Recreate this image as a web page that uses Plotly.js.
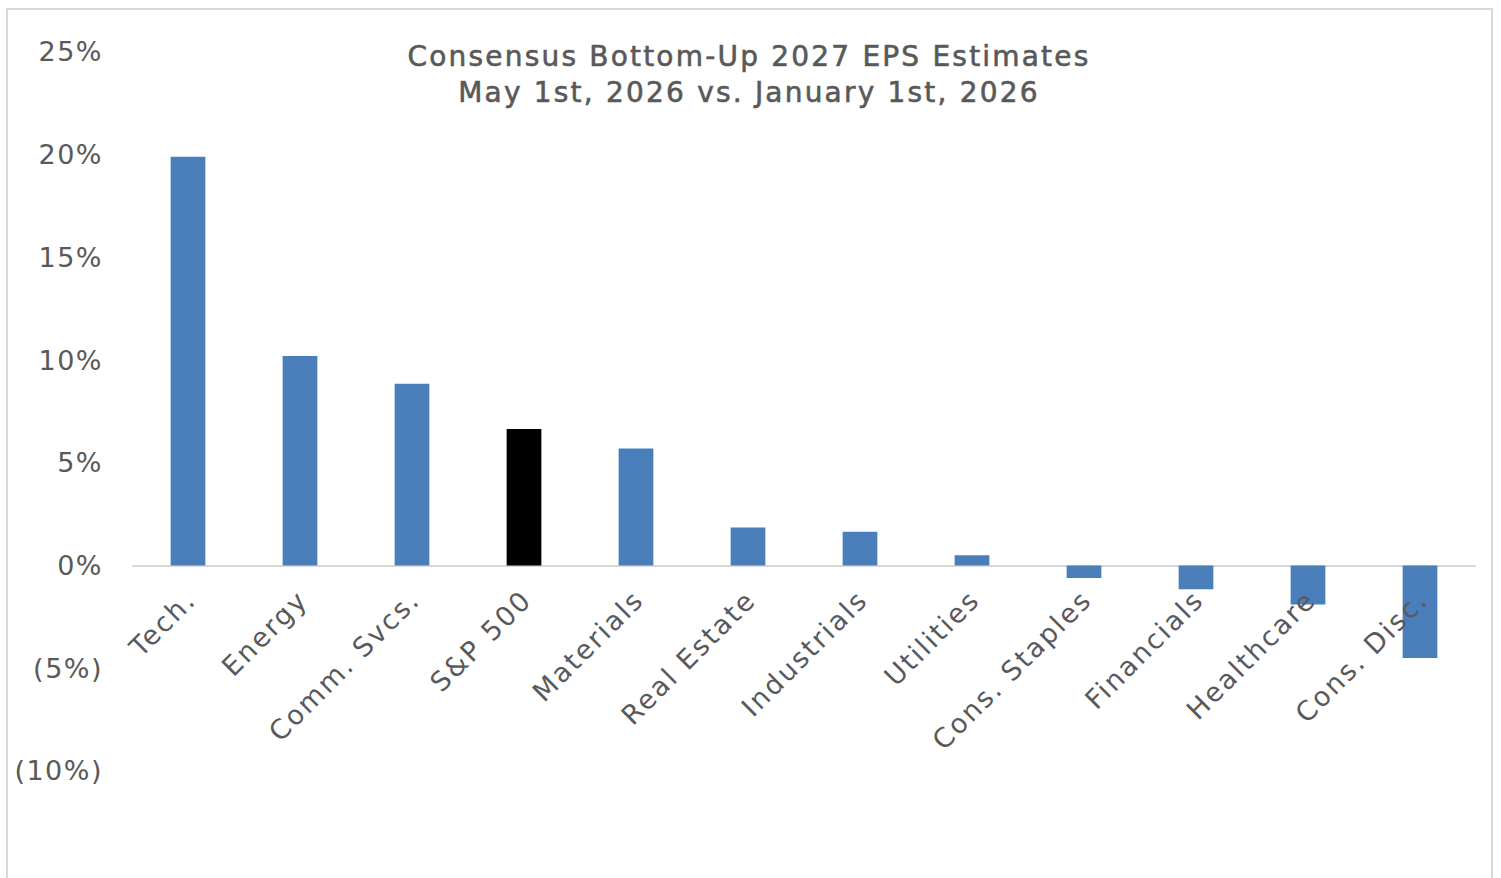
<!DOCTYPE html>
<html>
<head>
<meta charset="utf-8">
<script src="https://cdn.plot.ly/plotly-3.0.1.min.js"></script>
<style>
  html, body { margin: 0; padding: 0; background: #ffffff; }
  #frame { position: absolute; left: 6px; top: 8px; width: 1487px; height: 900px; border: 2px solid #d9d9d9; box-sizing: border-box; }
  #chart { position: absolute; left: 0; top: 0; width: 1501px; height: 878px; }
  .gtitle { stroke: #595959; stroke-width: 0.6px; letter-spacing: 2.2px; }
  .xtick text { letter-spacing: 2.2px; }
  .ytick text { letter-spacing: 1.5px; }
</style>
</head>
<body>
<div id="frame"></div>
<div id="chart"></div>
<script>
const categories = ["Tech.", "Energy", "Comm. Svcs.", "S&P 500", "Materials", "Real Estate", "Industrials", "Utilities", "Cons. Staples", "Financials", "Healthcare", "Cons. Disc."];
const values = [19.9, 10.2, 8.85, 6.65, 5.7, 1.85, 1.65, 0.5, -0.6, -1.15, -1.9, -4.5];
const barColors = ["#4a7ebb", "#4a7ebb", "#4a7ebb", "#000000", "#4a7ebb", "#4a7ebb", "#4a7ebb", "#4a7ebb", "#4a7ebb", "#4a7ebb", "#4a7ebb", "#4a7ebb"];
const yTickVals = [-10, -5, 0, 5, 10, 15, 20, 25];
const yTickText = ["(10%)", "(5%)", "0%", "5%", "10%", "15%", "20%", "25%"];
const titleText = "Consensus Bottom-Up 2027 EPS Estimates<br>May 1st, 2026 vs. January 1st, 2026";

const fontFamily = "'DejaVu Sans', 'Noto Sans', sans-serif";
const gray = "#595959";

const trace = {
  type: "bar",
  x: categories,
  y: values,
  marker: { color: barColors, line: { width: 0 } },
  width: 0.31,
  hoverinfo: "x+y"
};

const yMin = -10, yMax = 25;

const layout = {
  width: 1501,
  height: 878,
  paper_bgcolor: "rgba(0,0,0,0)",
  plot_bgcolor: "rgba(0,0,0,0)",
  margin: { l: 132, r: 25, t: 52, b: 107 },
  showlegend: false,
  title: {
    text: titleText,
    x: 0.499, xref: "container", xanchor: "center",
    y: 0.925, yref: "container", yanchor: "top",
    font: { family: fontFamily, size: 28, color: gray }
  },
  xaxis: {
    type: "category",
    anchor: "free",
    position: (0 - yMin) / (yMax - yMin),
    showline: false,
    showgrid: false,
    zeroline: false,
    ticks: "",
    tickangle: -45,
    ticklabelstandoff: 12,
    tickfont: { family: fontFamily, size: 27, color: gray },
    range: [-0.5, categories.length - 0.5]
  },
  yaxis: {
    range: [yMin, yMax],
    tickvals: yTickVals,
    ticktext: yTickText,
    showgrid: false,
    showline: false,
    zeroline: true,
    zerolinecolor: "#d9d9d9",
    zerolinewidth: 2,
    ticks: "",
    ticklabelstandoff: 28,
    tickfont: { family: fontFamily, size: 27, color: gray }
  }
};

Plotly.newPlot("chart", [trace], layout, { displayModeBar: false });
</script>
</body>
</html>
